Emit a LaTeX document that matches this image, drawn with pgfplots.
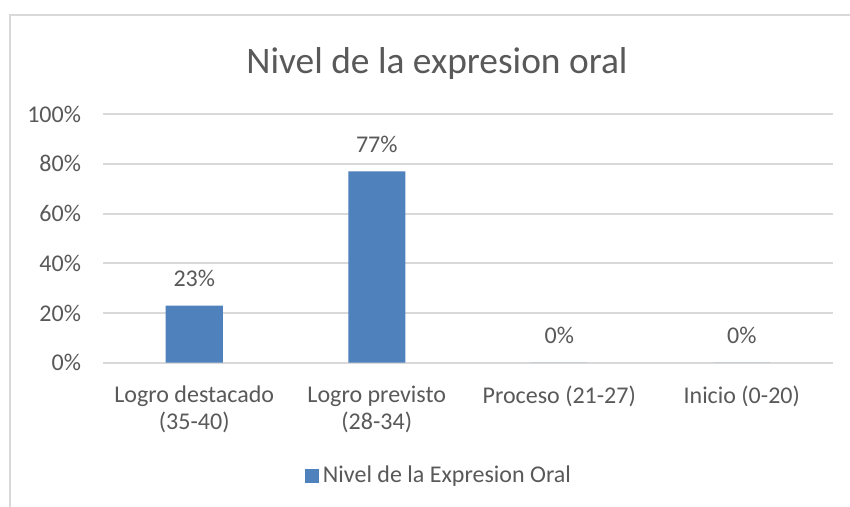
\documentclass[border=0pt]{standalone}
\usepackage{pgfplots}
\pgfplotsset{compat=1.18}
\usepackage{fontspec}
\setmainfont{Carlito}
\definecolor{barblue}{HTML}{4F81BD}
\definecolor{gridgray}{HTML}{D9D9D9}
\definecolor{txtgray}{HTML}{595959}
\begin{document}
\begin{tikzpicture}
\useasboundingbox (0,0) rectangle (425pt,253.5pt);
\fill[white] (0,0) rectangle (425pt,253.5pt);
\draw[gridgray, line width=1pt] (4.75pt,0) -- (4.75pt,246pt) -- (425pt,246pt);
\node[text=txtgray, font=\fontsize{18.7}{22}\selectfont] at (218.5pt,221.5pt) {Nivel de la expresion oral};
\begin{axis}[
  at={(51.5pt,72.15pt)}, anchor=south west,
  scale only axis, width=365pt, height=124.25pt,
  xmin=-0.5, xmax=3.5, ymin=0, ymax=100,
  xtick=data,
  xticklabels={{Logro destacado\\(35-40)},{Logro previsto\\(28-34)},{Proceso (21-27)},{Inicio (0-20)}},
  xticklabel style={align=center, font=\fontsize{12}{13.5}\selectfont, text=txtgray, yshift=-8pt},
  ytick={0,20,40,60,80,100},
  yticklabel={\pgfmathprintnumber{\tick}\%},
  yticklabel style={font=\fontsize{12}{14}\selectfont, text=txtgray, xshift=-7.5pt},
  /pgf/number format/assume math mode=true,
  major tick length=0pt,
  axis line style={draw=none},
  ymajorgrids, grid style={gridgray, line width=1pt},
  ybar, bar width=28.5pt,
  nodes near coords={\pgfmathprintnumber{\pgfplotspointmeta}\%},
  point meta=y,
  every node near coord/.append style={font=\fontsize{12}{14}\selectfont, text=txtgray, yshift=6pt},
  legend style={at={(0.4616,-0.456)}, anchor=center, draw=none, fill=none,
    font=\fontsize{12}{14}\selectfont, text=txtgray, legend columns=1},
  legend image code/.code={\fill[barblue] (0pt,-3.5pt) rectangle (7pt,3.5pt);},
  clip=false,
]
\addplot[fill=barblue, draw=none] coordinates {(0,23) (1,77) (2,0) (3,0)};
\addlegendentry{Nivel de la Expresion Oral}
\end{axis}
\end{tikzpicture}
\end{document}
